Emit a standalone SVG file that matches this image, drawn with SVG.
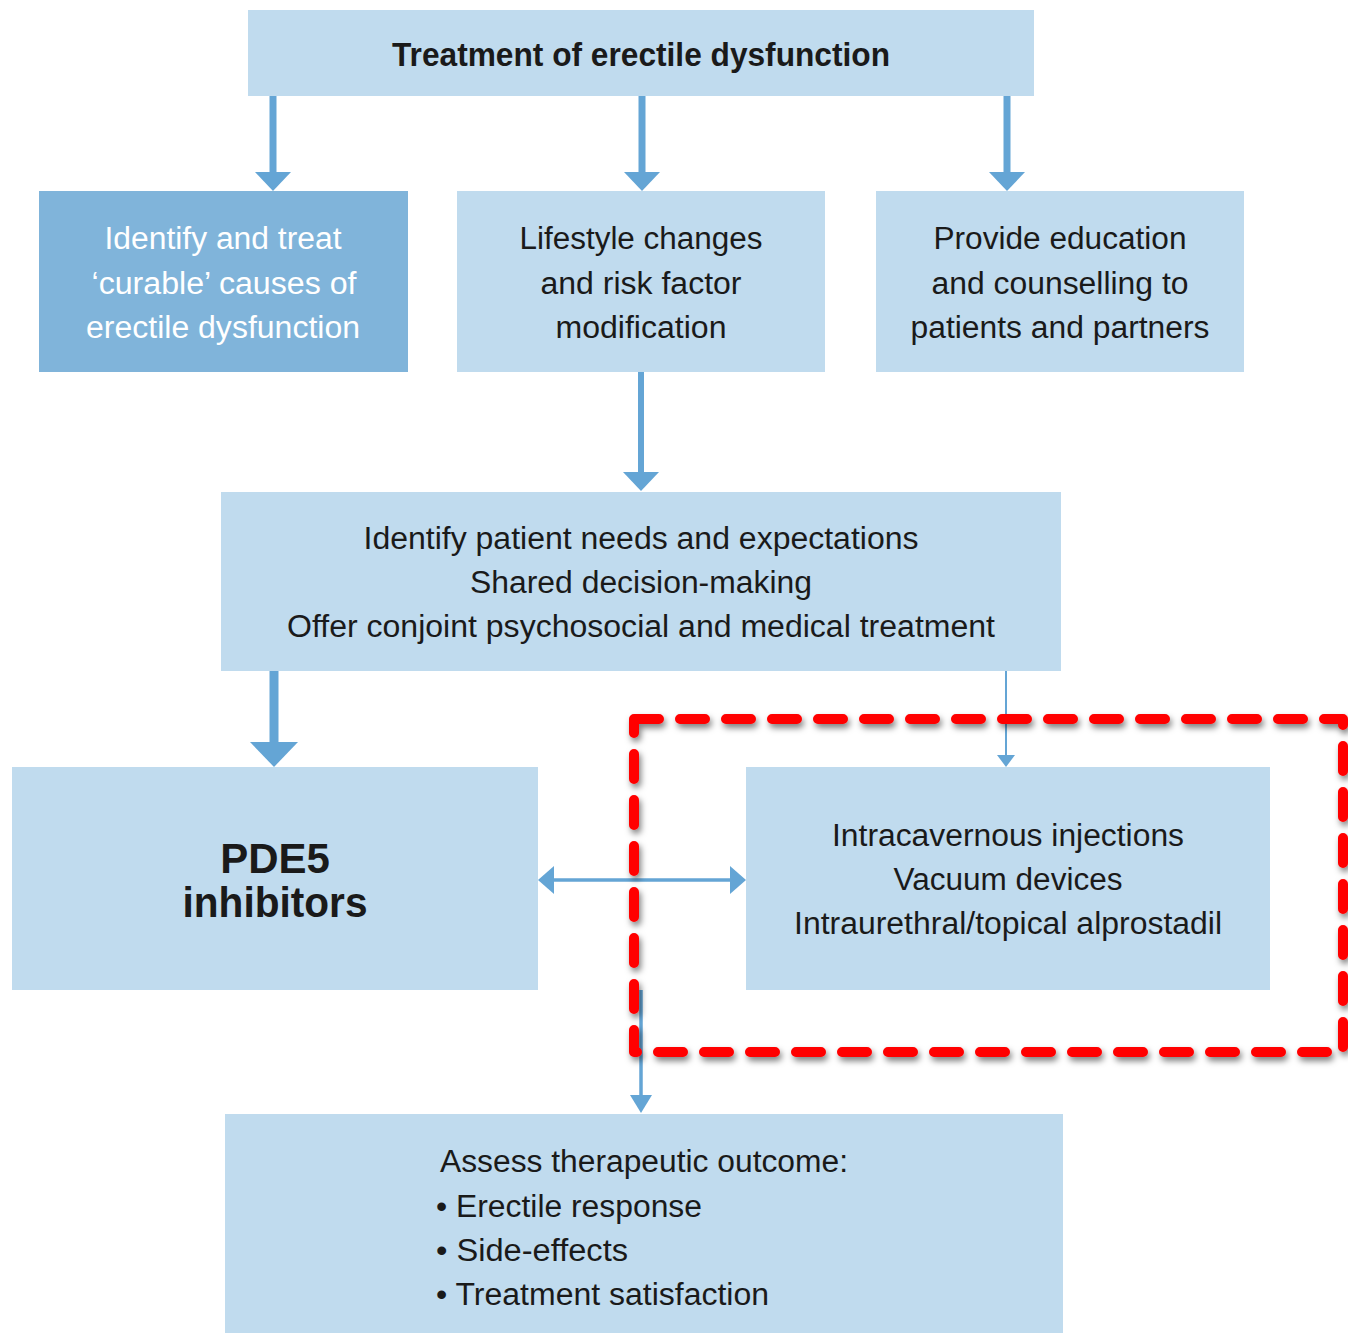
<svg xmlns="http://www.w3.org/2000/svg" width="1348" height="1333" viewBox="0 0 1348 1333">
<defs>
<style>
.lb{fill:#c0dbee}
.db{fill:#80b4da}
.t{font-family:"Liberation Sans",Arial,sans-serif;font-size:31px;fill:#1a1a1a;text-anchor:middle}
.tl{font-family:"Liberation Sans",Arial,sans-serif;font-size:31px;fill:#1a1a1a}
.w{fill:#ffffff}
.b{font-weight:bold}
.title{font-size:33px}
.big{font-size:42px}
.ln{stroke:#64a5d5;fill:none}
.hd{fill:#64a5d5}
.red{fill:none;stroke:#ff0000;stroke-width:10;stroke-dasharray:25 21;stroke-linecap:round;stroke-linejoin:round}
</style>
<filter id="sh" x="-5%" y="-5%" width="110%" height="110%">
<feDropShadow dx="2" dy="4" stdDeviation="3" flood-color="#000" flood-opacity="0.5"/>
</filter>
</defs>
<rect width="1348" height="1333" fill="#ffffff"/>

<g id="connectors">
<path class="ln" stroke-width="7" d="M273 96V174M642 96V174M1007 96V174"/>
<polygon class="hd" points="255,172 291,172 273,191"/>
<polygon class="hd" points="624,172 660,172 642,191"/>
<polygon class="hd" points="989,172 1025,172 1007,191"/>
<path class="ln" stroke-width="6" d="M641 372V474"/>
<polygon class="hd" points="623,472 659,472 641,491"/>
<path class="ln" stroke-width="9" d="M274 671V745"/>
<polygon class="hd" points="250,742 298,742 274,767"/>
<path class="ln" stroke-width="2" d="M1006 671V757"/>
<polygon class="hd" points="997,755 1015,755 1006,767"/>
<path class="ln" stroke-width="3.5" d="M552 880H732"/>
<polygon class="hd" points="538,880 554,866 554,894"/>
<polygon class="hd" points="746,880 730,866 730,894"/>
<path class="ln" stroke-width="3.5" d="M641 990V1098"/>
<polygon class="hd" points="630,1095 652,1095 641,1113"/>
</g>

<g id="n-top">
<rect class="lb" x="248" y="10" width="786" height="86"/>
<text class="t b title" x="641" y="66" textLength="498" lengthAdjust="spacingAndGlyphs">Treatment of erectile dysfunction</text>
</g>

<g id="n-curable">
<rect class="db" x="39" y="191" width="369" height="181"/>
<text class="t w" x="223" y="249" textLength="237" lengthAdjust="spacingAndGlyphs">Identify and treat</text>
<text class="t w" x="224" y="294" textLength="265" lengthAdjust="spacingAndGlyphs">‘curable’ causes of</text>
<text class="t w" x="223" y="338" textLength="274" lengthAdjust="spacingAndGlyphs">erectile dysfunction</text>
</g>

<g id="n-lifestyle">
<rect class="lb" x="457" y="191" width="368" height="181"/>
<text class="t" x="641" y="249" textLength="243" lengthAdjust="spacingAndGlyphs">Lifestyle changes</text>
<text class="t" x="641" y="294" textLength="201" lengthAdjust="spacingAndGlyphs">and risk factor</text>
<text class="t" x="641" y="338" textLength="171" lengthAdjust="spacingAndGlyphs">modification</text>
</g>

<g id="n-education">
<rect class="lb" x="876" y="191" width="368" height="181"/>
<text class="t" x="1060" y="249" textLength="253" lengthAdjust="spacingAndGlyphs">Provide education</text>
<text class="t" x="1060" y="294" textLength="257" lengthAdjust="spacingAndGlyphs">and counselling to</text>
<text class="t" x="1060" y="338" textLength="299" lengthAdjust="spacingAndGlyphs">patients and partners</text>
</g>

<g id="n-needs">
<rect class="lb" x="221" y="492" width="840" height="179"/>
<text class="t" x="641" y="549" textLength="555" lengthAdjust="spacingAndGlyphs">Identify patient needs and expectations</text>
<text class="t" x="641" y="593" textLength="342" lengthAdjust="spacingAndGlyphs">Shared decision-making</text>
<text class="t" x="641" y="637" textLength="708" lengthAdjust="spacingAndGlyphs">Offer conjoint psychosocial and medical treatment</text>
</g>

<g id="n-pde5">
<rect class="lb" x="12" y="767" width="526" height="223"/>
<text class="t b big" x="275" y="873">PDE5</text>
<text class="t b big" x="275" y="917" textLength="185" lengthAdjust="spacingAndGlyphs">inhibitors</text>
</g>

<g id="n-second-line">
<rect class="lb" x="746" y="767" width="524" height="223"/>
<text class="t" x="1008" y="846" textLength="352" lengthAdjust="spacingAndGlyphs">Intracavernous injections</text>
<text class="t" x="1008" y="890" textLength="229" lengthAdjust="spacingAndGlyphs">Vacuum devices</text>
<text class="t" x="1008" y="934" textLength="428" lengthAdjust="spacingAndGlyphs">Intraurethral/topical alprostadil</text>
</g>

<g id="n-outcome">
<rect class="lb" x="225" y="1114" width="838" height="219"/>
<text class="tl" x="440" y="1172" textLength="408" lengthAdjust="spacingAndGlyphs">Assess therapeutic outcome:</text>
<text class="tl" x="436" y="1217" textLength="266" lengthAdjust="spacingAndGlyphs">• Erectile response</text>
<text class="tl" x="436" y="1261" textLength="192" lengthAdjust="spacingAndGlyphs">• Side-effects</text>
<text class="tl" x="436" y="1305" textLength="333" lengthAdjust="spacingAndGlyphs">• Treatment satisfaction</text>
</g>

<g id="highlight">
<rect class="red" x="634" y="719" width="709" height="333" filter="url(#sh)"/>
</g>
</svg>
